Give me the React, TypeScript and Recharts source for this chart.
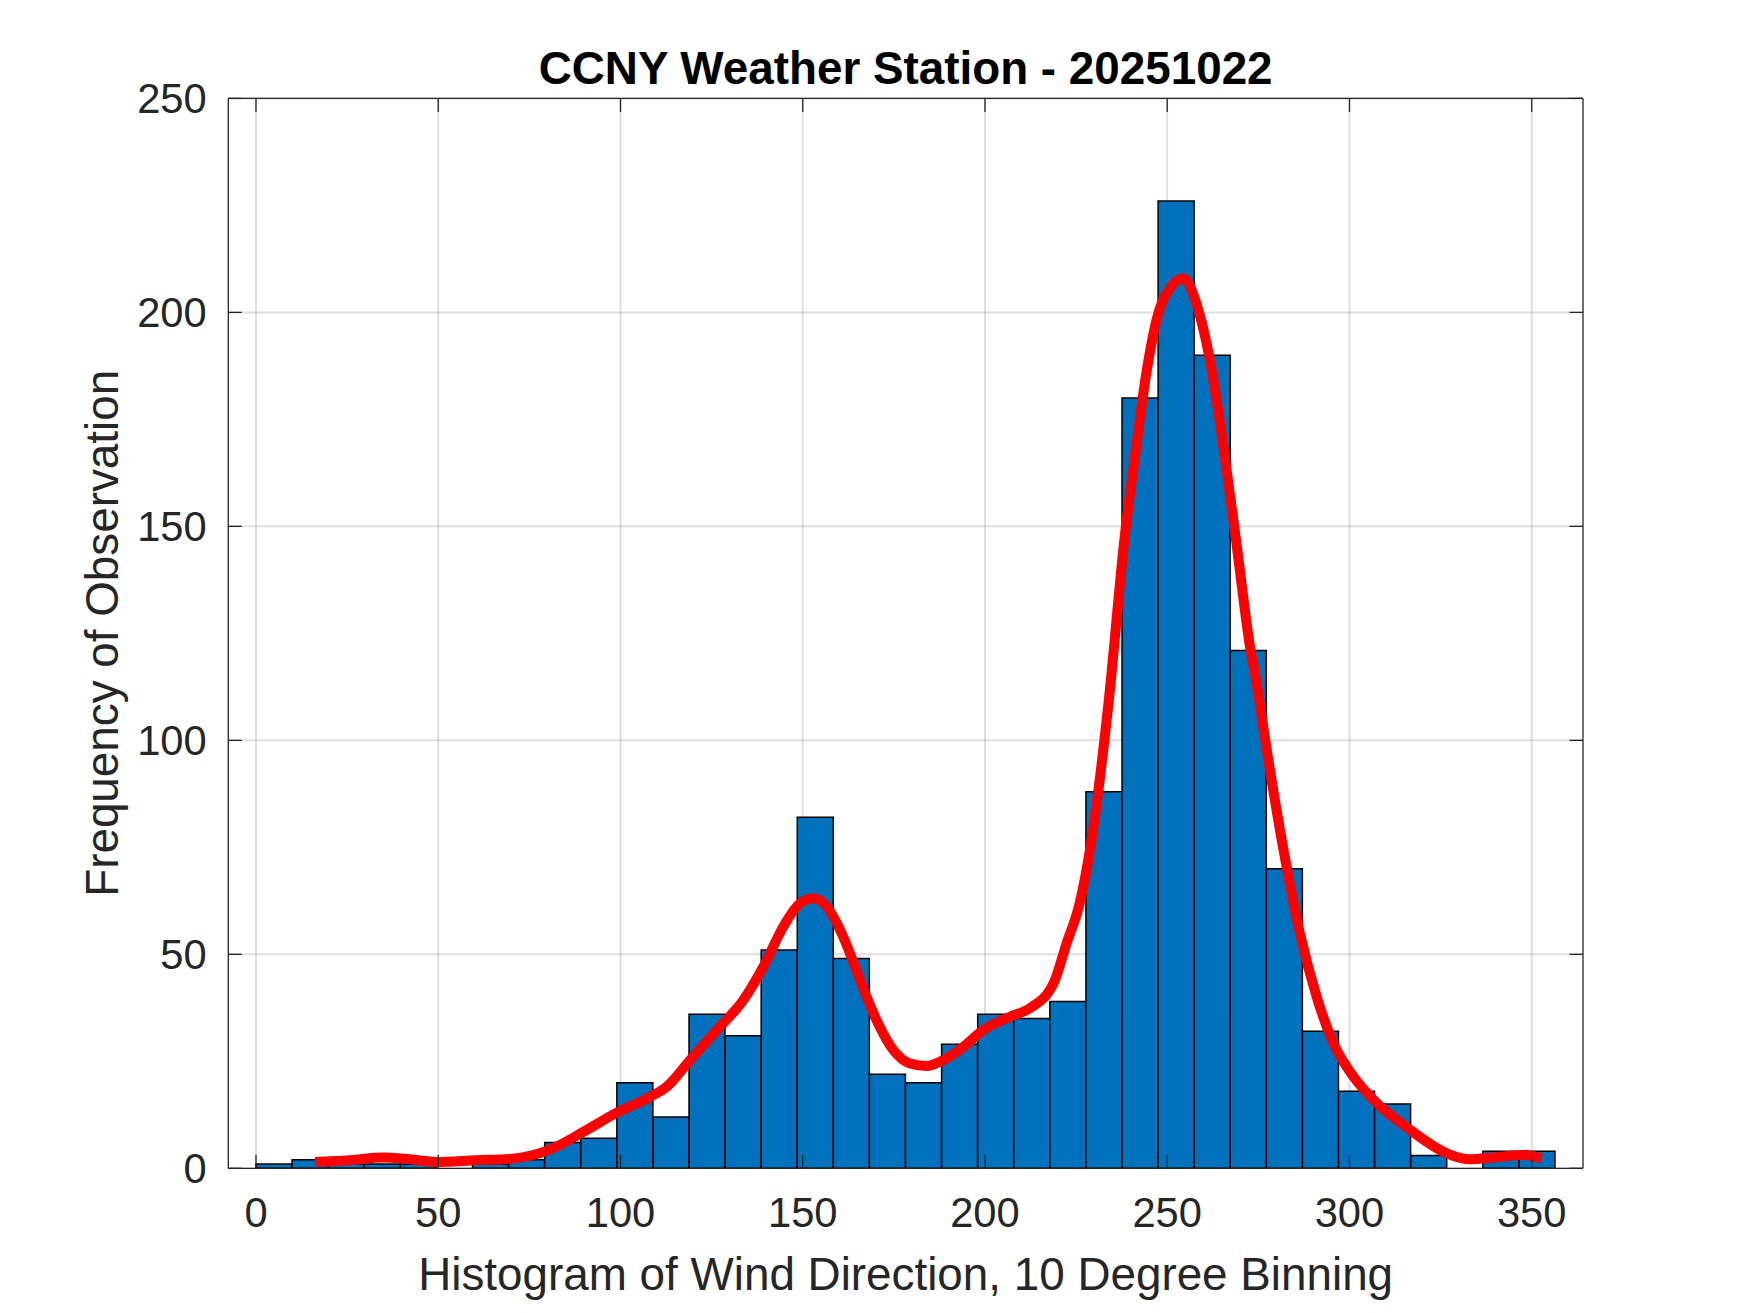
import { Bar, ComposedChart, Line, XAxis, YAxis, CartesianGrid } from "recharts"

// histogram: 36 bins of 9.9 degrees, value = bin centre
const binCenters = [
  4.95, 14.85, 24.75, 34.65, 44.55, 54.45, 64.35, 74.25, 84.15, 94.05, 103.95, 113.85,
  123.75, 133.65, 143.55, 153.45, 163.35, 173.25, 183.15, 193.05, 202.95, 212.85, 222.75, 232.65,
  242.55, 252.45, 262.35, 272.25, 282.15, 292.05, 301.95, 311.85, 321.75, 331.65, 341.55, 351.45,
]
const binCounts = [
  1, 2, 1, 1, 1, 0, 1, 2, 6, 7, 20, 12,
  36, 31, 51, 82, 49, 22, 20, 29, 36, 35, 39, 88,
  180, 226, 190, 121, 70, 32, 18, 15, 3, 0, 4, 4,
]

// smoothed density curve (red)
const curveX = [
  16.2, 25.8, 34.9, 42.2, 49.6, 60.5, 69.7, 76.1, 82.5, 89.8, 99, 108.1,
  112.7, 119.1, 126.4, 133.7, 139.2, 144.7, 149.2, 152.9, 156.6, 161.1, 165.7, 170.2,
  174.8, 179.4, 184, 188.6, 194.1, 199.5, 206.9, 212.3, 218.8, 222.4, 226, 229.8,
  233.8, 238.4, 241.1, 244.3, 247.3, 250.8, 254.4, 258.1, 261.7, 265.4, 269.1, 272.7,
  274.5, 277.3, 281.9, 286.4, 291, 295.6, 301.1, 307.5, 316.6, 326.7, 333, 340.4,
  347.7, 352.7,
]
const curveY = [
  1.5, 1.9, 2.5, 2.1, 1.5, 1.9, 2.2, 3.1, 5.1, 8.5, 13, 16.7,
  19.1, 25.3, 32.3, 39.3, 47.1, 56.5, 61.9, 63.1, 61.1, 54.1, 44.0, 34.7,
  27.7, 24.5, 23.9, 25.3, 28.4, 32.3, 35.4, 37.4, 43.2, 52.6, 62, 80,
  108, 148, 166, 186, 199, 205.7, 208, 201.8, 188.9, 168.7, 145.3, 121.9,
  113.4, 97.8, 74.4, 54.9, 40.1, 29.2, 21.4, 15.2, 9, 3.5, 2.1, 2.6,
  3.1, 2.3,
]

const xTicks = [0, 50, 100, 150, 200, 250, 300, 350]
const yTicks = [0, 50, 100, 150, 200, 250]
const xDomain = [-7.6, 364.07]

const bins = binCenters.map((x, i) => ({ x, count: binCounts[i] }))
const curve = curveX.map((x, i) => ({ x, y: curveY[i] }))

const W = 1750
const H = 1313
const FONT = "'Liberation Sans', Arial, Helvetica, sans-serif"
const INK = "#262626"
const TICK_LEN = 13.5
const TICK_FS = 41.7
const LABEL_FS = 45.8

const BottomTick = ({ x, y, payload }: any) => (
  <g>
    <line x1={x} y1={y} x2={x} y2={y - TICK_LEN} stroke={INK} strokeWidth={1.3} />
    <text x={x} y={y + 58.7} textAnchor="middle" fontSize={TICK_FS} fontFamily={FONT} fill={INK}>
      {payload.value}
    </text>
  </g>
)

const TopTick = ({ x, y }: any) => (
  <line x1={x} y1={y} x2={x} y2={y + TICK_LEN} stroke={INK} strokeWidth={1.3} />
)

const LeftTick = ({ x, y, payload }: any) => (
  <g>
    <line x1={x} y1={y} x2={x + TICK_LEN} y2={y} stroke={INK} strokeWidth={1.3} />
    <text x={x - 21.6} y={y + 15} textAnchor="end" fontSize={TICK_FS} fontFamily={FONT} fill={INK}>
      {payload.value}
    </text>
  </g>
)

const RightTick = ({ x, y }: any) => (
  <line x1={x} y1={y} x2={x - TICK_LEN} y2={y} stroke={INK} strokeWidth={1.3} />
)

export default function App() {
  const plotLeft = 228.3
  const plotRight = 1583
  const plotTop = 98.4
  const plotBottom = 1168.3
  const midX = (plotLeft + plotRight) / 2
  const midY = (plotTop + plotBottom) / 2

  return (
    <div style={{ position: "absolute", left: 0, top: 0, width: W, height: H, background: "#fff" }}>
      <ComposedChart
        width={W}
        height={H}
        data={bins}
        margin={{ top: plotTop - 1, right: W - plotRight - 1, bottom: 0, left: 0 }}
        barCategoryGap={0}
        barGap={0}
      >
        <CartesianGrid
          xAxisId="b"
          yAxisId="l"
          stroke={INK}
          strokeOpacity={0.15}
          strokeWidth={2}
          horizontalValues={yTicks}
          verticalValues={xTicks}
        />
        <XAxis
          xAxisId="b"
          dataKey="x"
          type="number"
          domain={xDomain}
          allowDataOverflow
          ticks={xTicks}
          interval={0}
          height={H - plotBottom}
          tickSize={0}
          tickMargin={0}
          tickLine={false}
          tick={<BottomTick />}
          axisLine={{ stroke: INK, strokeWidth: 1.3 }}
        />
        <XAxis
          xAxisId="t"
          orientation="top"
          dataKey="x"
          type="number"
          domain={xDomain}
          allowDataOverflow
          ticks={xTicks}
          interval={0}
          height={1}
          tickSize={0}
          tickMargin={0}
          tickLine={false}
          tick={<TopTick />}
          axisLine={{ stroke: INK, strokeWidth: 1.3 }}
        />
        {/* hidden axis for the density curve so its points don't shrink the bar band */}
        <XAxis xAxisId="c" dataKey="x" type="number" domain={xDomain} allowDataOverflow hide />
        <YAxis
          yAxisId="l"
          type="number"
          domain={[0, 250]}
          allowDataOverflow
          ticks={yTicks}
          interval={0}
          width={plotLeft}
          tickSize={0}
          tickMargin={0}
          tickLine={false}
          tick={<LeftTick />}
          axisLine={{ stroke: INK, strokeWidth: 1.3 }}
        />
        <YAxis
          yAxisId="r"
          orientation="right"
          type="number"
          domain={[0, 250]}
          allowDataOverflow
          ticks={yTicks}
          interval={0}
          width={1}
          tickSize={0}
          tickMargin={0}
          tickLine={false}
          tick={<RightTick />}
          axisLine={{ stroke: INK, strokeWidth: 1.3 }}
        />
        <Bar
          xAxisId="b"
          yAxisId="l"
          dataKey="count"
          fill="#0072BD"
          stroke="#000"
          strokeWidth={1.5}
          isAnimationActive={false}
        />
        <Line
          xAxisId="c"
          yAxisId="l"
          data={curve}
          dataKey="y"
          type="monotone"
          stroke="#FF0000"
          strokeWidth={10}
          dot={false}
          activeDot={false}
          isAnimationActive={false}
        />
      </ComposedChart>
      <svg
        width={W}
        height={H}
        style={{ position: "absolute", left: 0, top: 0, pointerEvents: "none" }}
      >
        <text x={midX} y={83.5} textAnchor="middle" fontSize={LABEL_FS} fontWeight="bold" fontFamily={FONT} fill="#000">
          CCNY Weather Station - 20251022
        </text>
        <text x={midX} y={1290} textAnchor="middle" fontSize={LABEL_FS} fontFamily={FONT} fill={INK}>
          Histogram of Wind Direction, 10 Degree Binning
        </text>
        <text
          x={118.3}
          y={midY}
          transform={`rotate(-90, 118.3, ${midY})`}
          textAnchor="middle"
          fontSize={LABEL_FS}
          fontFamily={FONT}
          fill={INK}
        >
          Frequency of Observation
        </text>
      </svg>
    </div>
  )
}
